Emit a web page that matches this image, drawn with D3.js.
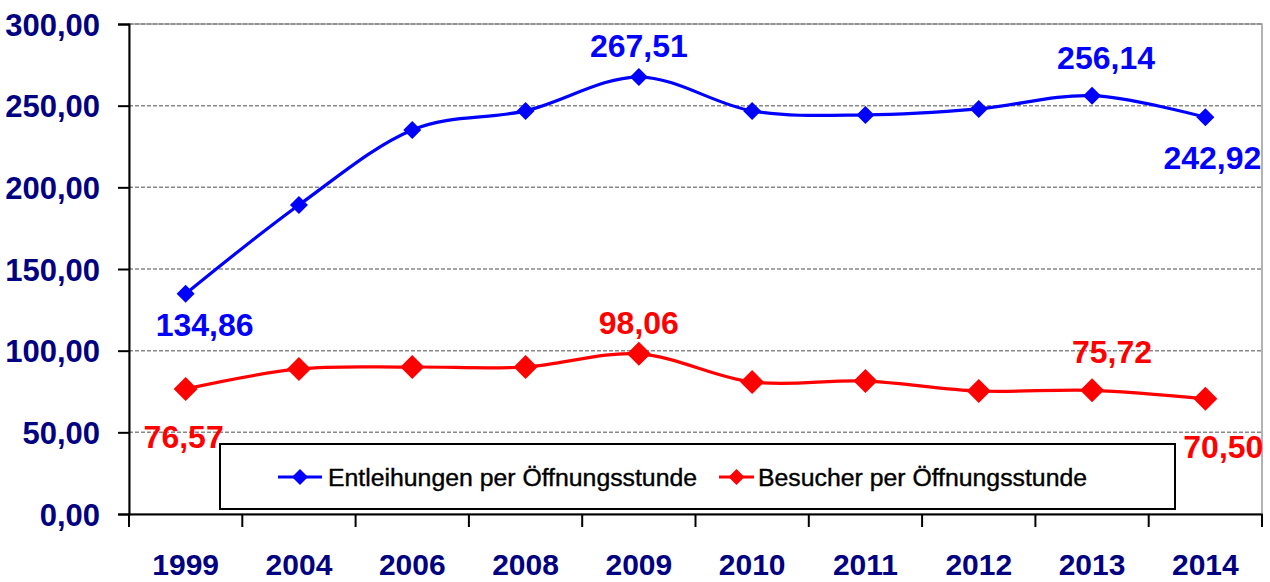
<!DOCTYPE html>
<html>
<head>
<meta charset="utf-8">
<script src="https://cdn.jsdelivr.net/npm/d3@7"></script>
<style>
body { margin: 0; background: #fff; }
svg text { font-family: "Liberation Sans", sans-serif; }
</style>
</head>
<body>
<svg id="chart" width="1270" height="582"></svg>
<script>
// data
const years = ["1999", "2004", "2006", "2008", "2009", "2010", "2011", "2012", "2013", "2014"];
const entleihungen = [134.86, 189.2, 235.1, 246.8, 267.51, 246.8, 244.3, 248.0, 256.14, 242.92];
const besucher = [76.57, 88.8, 90.0, 90.0, 98.06, 80.8, 81.4, 75.3, 75.72, 70.50];
const yTicks = [0, 50, 100, 150, 200, 250, 300];
// which points carry a value label
const blueLabels = [0, 4, 8, 9];
const redLabels = [0, 4, 8, 9];

const margin = { top: 24, right: 8, bottom: 68, left: 129 };
const width = 1270, heightSvg = 582;
const w = width - margin.left - margin.right;
const h = heightSvg - margin.top - margin.bottom;

const fmt = (v) => v.toFixed(2).replace(".", ",");

const svg = d3.select("#chart");
const g = svg.append("g").attr("transform", "translate(" + margin.left + "," + margin.top + ")");

const x = d3.scaleBand().domain(years).range([0, w]);
const y = d3.scaleLinear().domain([0, 300]).range([h, 0]);

// plot border (gray)
g.append("rect")
  .attr("x", 0).attr("y", 0).attr("width", w).attr("height", h)
  .attr("fill", "none").attr("stroke", "#9a9a9a").attr("stroke-width", 1.5);

// grid
g.append("g")
  .selectAll("line")
  .data(yTicks.filter((d) => d > 0))
  .join("line")
  .attr("x1", 0).attr("x2", w)
  .attr("y1", (d) => y(d)).attr("y2", (d) => y(d))
  .attr("stroke", "#888").attr("stroke-width", 1.5)
  .attr("stroke-dasharray", "4,2");

// y axis
const yAxis = g.append("g")
  .call(d3.axisLeft(y).tickValues(yTicks).tickSize(11).tickFormat(fmt));
yAxis.select(".domain").attr("stroke", "#000").attr("stroke-width", 2);
yAxis.selectAll(".tick line").attr("stroke", "#000").attr("stroke-width", 2);
yAxis.selectAll(".tick text")
  .attr("x", -29).attr("dy", "0.36em")
  .attr("fill", "#000080").attr("font-size", 31).attr("font-weight", "bold");

// x axis
const xAxis = g.append("g")
  .attr("transform", "translate(0," + h + ")")
  .call(d3.axisBottom(x).tickSize(0).tickFormat((d) => d));
xAxis.select(".domain").attr("stroke", "#000").attr("stroke-width", 2);
xAxis.selectAll(".tick text")
  .attr("y", 61).attr("dy", 0)
  .attr("fill", "#000080").attr("font-size", 30).attr("font-weight", "bold");
// band boundary ticks
xAxis.append("g")
  .selectAll("line")
  .data(years.map((d) => x(d)).concat([w]))
  .join("line")
  .attr("x1", (d) => d).attr("x2", (d) => d)
  .attr("y1", 0).attr("y2", 13)
  .attr("stroke", "#000").attr("stroke-width", 2);

const cx = (i) => x(years[i]) + x.bandwidth() / 2;
const line = d3.line()
  .x((d, i) => cx(i))
  .y((d) => y(d))
  .curve(d3.curveCatmullRom.alpha(0));

const diamond = (s) => "M0," + (-s) + "L" + s + ",0L0," + s + "L" + (-s) + ",0Z";

function drawSeries(values, color, size) {
  g.append("path")
    .datum(values)
    .attr("fill", "none")
    .attr("stroke", color)
    .attr("stroke-width", 3.2)
    .attr("stroke-linejoin", "round")
    .attr("d", line);
  g.append("g")
    .selectAll("path")
    .data(values)
    .join("path")
    .attr("transform", (d, i) => "translate(" + cx(i) + "," + y(d) + ")")
    .attr("d", diamond(size))
    .attr("fill", color);
}

drawSeries(entleihungen, "#0000ff", 9);
drawSeries(besucher, "#ff0000", 12);

function drawLabels(values, labels, color, offsets) {
  g.append("g")
    .selectAll("text")
    .data(labels)
    .join("text")
    .attr("x", (i) => cx(i) + offsets[i][0])
    .attr("y", (i) => y(values[i]) + offsets[i][1])
    .attr("text-anchor", "middle")
    .attr("fill", color)
    .attr("font-size", 32)
    .attr("font-weight", "bold")
    .text((i) => fmt(values[i]));
}

drawLabels(entleihungen, blueLabels, "#0000ff",
  { 0: [19, 42], 4: [0, -20], 8: [14, -27], 9: [7, 52] });
drawLabels(besucher, redLabels, "#ff0000",
  { 0: [-2, 59], 4: [0, -20], 8: [20, -27], 9: [18, 59] });

// legend
const legend = svg.append("g");
legend.append("rect")
  .attr("x", 220).attr("y", 444).attr("width", 955).attr("height", 65)
  .attr("fill", "#fff").attr("stroke", "#000").attr("stroke-width", 2);

const legendItems = [
  { name: "Entleihungen per Öffnungsstunde", color: "#0000ff", x0: 278, x1: 322, tx: 328 },
  { name: "Besucher per Öffnungsstunde", color: "#ff0000", x0: 719, x1: 754, tx: 758 }
];
legendItems.forEach((d) => {
  legend.append("line")
    .attr("x1", d.x0).attr("x2", d.x1).attr("y1", 477).attr("y2", 477)
    .attr("stroke", d.color).attr("stroke-width", 3);
  legend.append("path")
    .attr("transform", "translate(" + (d.x0 + d.x1) / 2 + ",477)")
    .attr("d", diamond(8))
    .attr("fill", d.color);
  legend.append("text")
    .attr("x", d.tx).attr("y", 486)
    .attr("font-size", 24.8)
    .attr("fill", "#000")
    .attr("stroke", "#000").attr("stroke-width", 0.4)
    .text(d.name);
});
</script>
</body>
</html>
